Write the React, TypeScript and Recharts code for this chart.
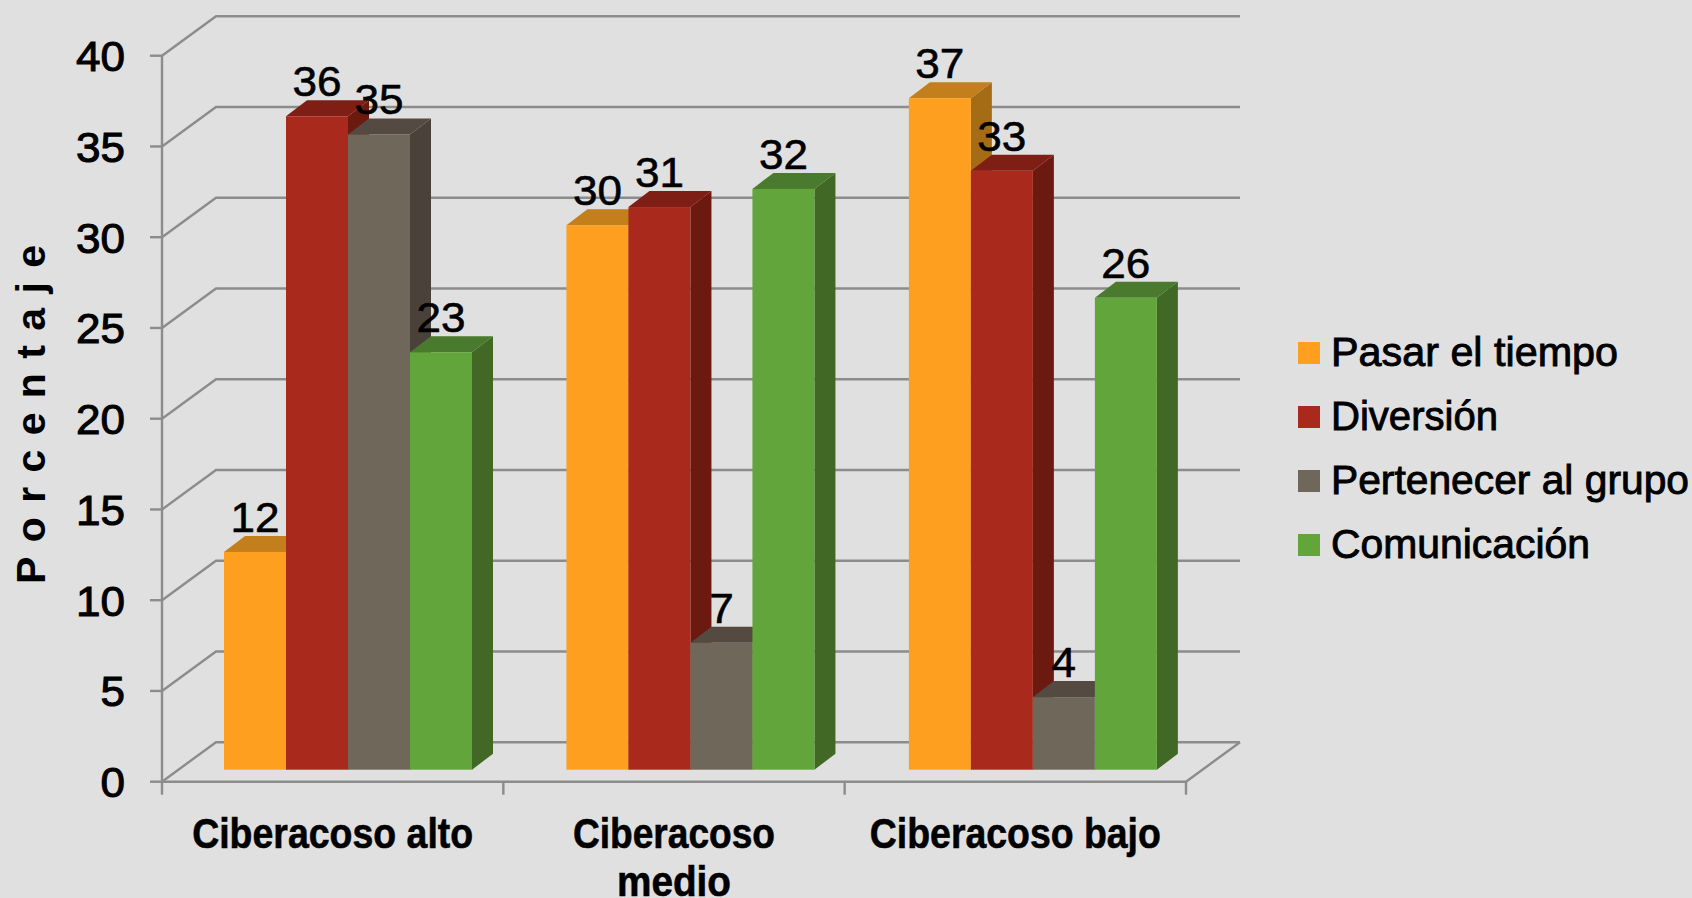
import { FC } from 'react';
import {
	BarChart,
	Bar,
	XAxis,
	YAxis,
	CartesianGrid,
	Legend,
	LabelList,
} from 'recharts';

const categories = ['Ciberacoso alto', 'Ciberacoso medio', 'Ciberacoso bajo'];
const pasarElTiempo = [12, 30, 37];
const diversion = [36, 31, 33];
const pertenecerAlGrupo = [35, 7, 4];
const comunicacion = [23, 32, 26];
const yTicks = [0, 5, 10, 15, 20, 25, 30, 35, 40];

const data = categories.map((name, i) => ({
	name,
	pasar: pasarElTiempo[i],
	diversion: diversion[i],
	pertenecer: pertenecerAlGrupo[i],
	comunicacion: comunicacion[i],
}));

const faces: Record<string, { top: string; side: string }> = {
	'#FF9F20': { top: '#C27F1B', side: '#A66C15' },
	'#A9291C': { top: '#7F1E15', side: '#6C1A10' },
	'#70675B': { top: '#544A41', side: '#4A413A' },
	'#62A63B': { top: '#4A7A2E', side: '#416824' },
};

const LINE = '#8C8C8C';
const FONT = '"Liberation Sans", Arial, sans-serif';

// wall depth of the fake 3D box, and where the bars sit inside it
const WALL_DX = 54;
const WALL_DY = -39.5;
const BAR_DX = 16;
const BAR_DY = -12;
const DEPTH_DX = 21;
const DEPTH_DY = -16;
const CATEGORY_W = 1024 / 3;
// the groups in the picture are spaced a bit wider than the axis ticks
const GROUP_NUDGE = 1.1;

const Bar3D = (props: any) => {
	const { x, y, width, height, fill, index } = props;
	const f = faces[fill];
	const l = x + BAR_DX + index * GROUP_NUDGE;
	const r = l + width;
	const t = y + BAR_DY;
	const b = t + height;
	return (
		<g>
			<polygon
				points={`${r},${t} ${r + DEPTH_DX},${t + DEPTH_DY} ${r + DEPTH_DX},${b + DEPTH_DY} ${r},${b}`}
				fill={f.side}
			/>
			<polygon
				points={`${l},${t} ${l + DEPTH_DX},${t + DEPTH_DY} ${r + DEPTH_DX},${t + DEPTH_DY} ${r},${t}`}
				fill={f.top}
			/>
			<rect x={l} y={t} width={width} height={height} fill={fill} />
		</g>
	);
};

const renderValue = (props: any) => {
	const { x, y, width, value, index } = props;
	const wide = String(value).length * 24.5;
	return (
		<text
			x={x + BAR_DX + index * GROUP_NUDGE + width / 2}
			y={y + BAR_DY - 20}
			textAnchor='middle'
			fontFamily={FONT}
			fontSize={42}
			fill='#000'
			stroke='#000'
			strokeWidth={0.6}
			textLength={wide}
			lengthAdjust='spacingAndGlyphs'
		>
			{value}
		</text>
	);
};

const renderGridLine = (props: any) => {
	const { x1, x2, y1 } = props;
	const isFloor = y1 > 780;
	return (
		<g key={`grid-${y1}`}>
			<polyline
				points={`${x1},${y1} ${x1 + WALL_DX},${y1 + WALL_DY} ${x2 + WALL_DX},${y1 + WALL_DY}`}
				fill='none'
				stroke={LINE}
				strokeWidth={2.4}
			/>
			{isFloor && (
				<line
					x1={x2}
					y1={y1}
					x2={x2 + WALL_DX}
					y2={y1 + WALL_DY}
					stroke={LINE}
					strokeWidth={2.4}
				/>
			)}
		</g>
	);
};

const YTick = (props: any) => {
	const { x, y, payload } = props;
	const label = String(payload.value);
	return (
		<text
			x={x}
			y={y + 15.5}
			textAnchor='end'
			fontFamily={FONT}
			fontSize={42}
			fill='#000'
			stroke='#000'
			strokeWidth={1}
			textLength={label.length * 24.5}
			lengthAdjust='spacingAndGlyphs'
		>
			{label}
		</text>
	);
};

const lineWidths: Record<string, number> = {
	'Ciberacoso alto': 281,
	Ciberacoso: 202,
	medio: 114,
	'Ciberacoso bajo': 291,
};

const XTick = (props: any) => {
	const { x, payload, index } = props;
	const lines =
		payload.value === 'Ciberacoso medio'
			? ['Ciberacoso', 'medio']
			: [payload.value];
	const axisY = 781.7;
	return (
		<g>
			<line
				x1={x - CATEGORY_W / 2}
				x2={x - CATEGORY_W / 2}
				y1={axisY}
				y2={axisY + 13}
				stroke={LINE}
				strokeWidth={2.4}
			/>
			{index === categories.length - 1 && (
				<line
					x1={x + CATEGORY_W / 2}
					x2={x + CATEGORY_W / 2}
					y1={axisY}
					y2={axisY + 13}
					stroke={LINE}
					strokeWidth={2.4}
				/>
			)}
			{lines.map((line: string, i: number) => (
				<text
					key={line}
					x={x}
					y={848 + i * 48}
					textAnchor='middle'
					fontFamily={FONT}
					fontWeight='bold'
					fontSize={42}
					fill='#000'
					stroke='#000'
					strokeWidth={0.6}
					textLength={lineWidths[line]}
					lengthAdjust='spacingAndGlyphs'
				>
					{line}
				</text>
			))}
		</g>
	);
};

const legendWidths: Record<string, number> = {
	'Pasar el tiempo': 287,
	Diversión: 167,
	'Pertenecer al grupo': 358,
	Comunicación: 259,
};

const renderLegend = (props: any) => (
	<svg width={395} height={256} style={{ display: 'block' }}>
		{props.payload.map((entry: any, i: number) => (
			<g key={entry.value} transform={`translate(0, ${i * 64})`}>
				<rect x={0} y={12} width={22} height={22} fill={entry.color} />
				<text
					x={33}
					y={35.7}
					fontFamily={FONT}
					fontSize={41}
					fill='#000'
					stroke='#000'
					strokeWidth={0.9}
					textLength={legendWidths[entry.value]}
					lengthAdjust='spacingAndGlyphs'
				>
					{entry.value}
				</text>
			</g>
		))}
	</svg>
);

const renderYTitle = () => (
	<text
		transform='translate(45, 414.5) rotate(-90)'
		textAnchor='middle'
		fontFamily={FONT}
		fontWeight='bold'
		fontSize={41}
		fill='#000'
		textLength={339}
		lengthAdjust='spacing'
	>
		Porcentaje
	</text>
);

const App: FC = () => {
	return (
		<div
			style={{
				position: 'absolute',
				left: 0,
				top: 0,
				width: 1692,
				height: 898,
				background: '#E0E0E0',
				overflow: 'hidden',
			}}
		>
			<BarChart
				width={1692}
				height={898}
				data={data}
				margin={{ top: 55.7, right: 506, bottom: 16.3, left: 62 }}
				barCategoryGap={46}
				barGap={0}
			>
				<CartesianGrid
					vertical={false}
					horizontal={renderGridLine}
					syncWithTicks
				/>
				<XAxis
					dataKey='name'
					height={100}
					interval={0}
					tick={<XTick />}
					tickLine={false}
					axisLine={{ stroke: LINE, strokeWidth: 2.4 }}
				/>
				<YAxis
					width={100}
					domain={[0, 40]}
					ticks={yTicks}
					interval={0}
					tick={<YTick />}
					tickSize={12}
					tickMargin={25}
					tickLine={{ stroke: LINE, strokeWidth: 2.4 }}
					axisLine={{ stroke: LINE, strokeWidth: 2.4 }}
					label={{ content: renderYTitle }}
				/>
				<Legend
					layout='vertical'
					align='center'
					verticalAlign='middle'
					itemSorter={null}
					content={renderLegend}
					wrapperStyle={{ left: 1297.5, top: 330, width: 395, height: 256 }}
				/>
				<Bar
					dataKey='pasar'
					name='Pasar el tiempo'
					fill='#FF9F20'
					shape={Bar3D}
					isAnimationActive={false}
				>
					<LabelList dataKey='pasar' content={renderValue} />
				</Bar>
				<Bar
					dataKey='diversion'
					name='Diversión'
					fill='#A9291C'
					shape={Bar3D}
					isAnimationActive={false}
				>
					<LabelList dataKey='diversion' content={renderValue} />
				</Bar>
				<Bar
					dataKey='pertenecer'
					name='Pertenecer al grupo'
					fill='#70675B'
					shape={Bar3D}
					isAnimationActive={false}
				>
					<LabelList dataKey='pertenecer' content={renderValue} />
				</Bar>
				<Bar
					dataKey='comunicacion'
					name='Comunicación'
					fill='#62A63B'
					shape={Bar3D}
					isAnimationActive={false}
				>
					<LabelList dataKey='comunicacion' content={renderValue} />
				</Bar>
			</BarChart>
		</div>
	);
};

export default App;
